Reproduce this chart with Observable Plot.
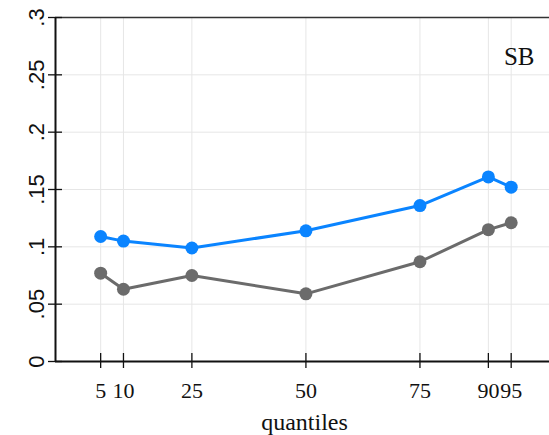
<!DOCTYPE html>
<html><head><meta charset="utf-8">
<script src="https://cdn.jsdelivr.net/npm/d3@7"></script>
<script src="https://cdn.jsdelivr.net/npm/@observablehq/plot@0.6"></script>
<style>body{margin:0;background:#fff}</style>
</head><body><div id="chart"></div>
<script>
const quantiles = [5, 10, 25, 50, 75, 90, 95];
const blueSeries = [0.109, 0.105, 0.099, 0.114, 0.136, 0.161, 0.152];
const graySeries = [0.077, 0.063, 0.075, 0.059, 0.087, 0.115, 0.121];
const yTicks = [0, 0.05, 0.1, 0.15, 0.2, 0.25, 0.3];
const yTickLabels = ["0", ".05", ".1", ".15", ".2", ".25", ".3"];
const xDomain = [-4.9, 103.4];
const yDomain = [0, 0.3];
const seriesNames = ["upper", "lower"];
const seriesColors = ["#0a84ff", "#6b6b6b"];
const panelLabel = "SB";
const xTitle = "quantiles";

const data = quantiles.flatMap((q, i) => [
  {q, v: graySeries[i], s: "lower"},
  {q, v: blueSeries[i], s: "upper"}
]);

const serif = "'Liberation Serif', 'DejaVu Serif', serif";
const sans = "'Liberation Sans', Arial, sans-serif";

const chart = Plot.plot({
  width: 549, height: 435,
  marginLeft: 55, marginRight: 0, marginTop: 17, marginBottom: 74,
  style: {fontFamily: serif, background: "#fff"},
  x: {domain: xDomain, label: null},
  y: {domain: yDomain, label: null},
  color: {domain: seriesNames, range: seriesColors},
  marks: [
    Plot.gridX(quantiles, {stroke: "#e6e6e6", strokeOpacity: 1}),
    Plot.gridY(yTicks, {stroke: "#e6e6e6", strokeOpacity: 1}),
    Plot.ruleY([yDomain[1]], {stroke: "#333", strokeWidth: 1.5}),
    Plot.ruleY([yDomain[0]], {stroke: "#111", strokeWidth: 2}),
    Plot.ruleX([xDomain[0]], {stroke: "#111", strokeWidth: 2}),
    Plot.axisX(quantiles, {tickSize: 15, dy: -8, tickPadding: 14, fontSize: 22, fontFamily: serif, stroke: "#111", strokeWidth: 1.3, label: null, fill: "#111"}),
    Plot.axisY(yTicks, {tickSize: 14, dx: 7, tickPadding: 5, tickRotate: -90, fontSize: 22, fontFamily: sans, stroke: "#111", strokeWidth: 1.3, label: null, fill: "#111",
      tickFormat: d => yTickLabels[yTicks.indexOf(d)]}),
    Plot.line(data, {x: "q", y: "v", z: "s", stroke: {value: "s", scale: "color"}, strokeWidth: 3}),
    Plot.dot(data, {x: "q", y: "v", fill: {value: "s", scale: "color"}, r: 6.5}),
    Plot.text([panelLabel], {text: d => d, frameAnchor: "top-right", dx: -15, dy: 30, fontSize: 25, fontFamily: serif, textAnchor: "end", lineAnchor: "top", fill: "#111"}),
    Plot.text([xTitle], {text: d => d, frameAnchor: "bottom", dx: 2, dy: 51, fontSize: 24, fontFamily: serif, lineAnchor: "top", fill: "#111"})
  ]
});
document.getElementById("chart").appendChild(chart);
</script>
</body></html>
